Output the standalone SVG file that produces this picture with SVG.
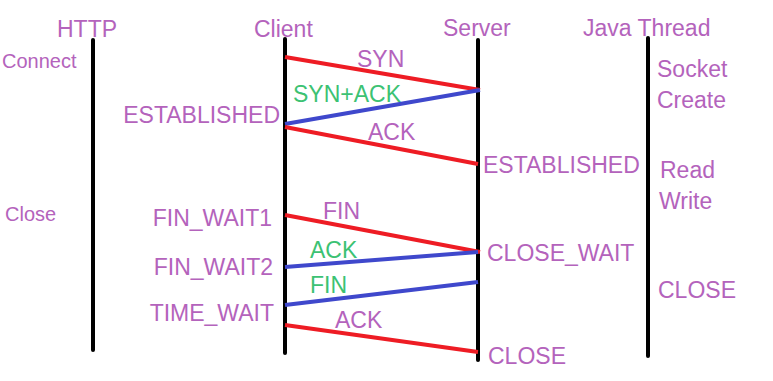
<svg xmlns="http://www.w3.org/2000/svg" width="773" height="381" viewBox="0 0 773 381">
<style>
.bg{fill:#ffffff}
.life{stroke:#000000;stroke-width:4;stroke-linecap:round;fill:none}
.red{stroke:#ee1c24;stroke-width:4;fill:none}
.blue{stroke:#3f48cc;stroke-width:4;fill:none}
text{font-family:"Liberation Sans",Arial,sans-serif;font-size:23px;fill:#b463bc}
.sm{font-size:20px}
.g{fill:#3cc273}
.e{text-anchor:end}
</style>
<rect class="bg" x="0" y="0" width="773" height="381"/>
<g id="http">
<line class="life" x1="93" y1="40" x2="93" y2="350"/>
<text x="57" y="37">HTTP</text>
<text class="sm" x="2" y="68">Connect</text>
<text class="sm" x="5" y="221">Close</text>
</g>
<g id="client">
<line class="life" x1="285" y1="39" x2="285" y2="353"/>
<text x="254" y="37">Client</text>
<text class="e" x="280" y="123">ESTABLISHED</text>
<text class="e" x="272" y="226">FIN_WAIT1</text>
<text class="e" x="273" y="275">FIN_WAIT2</text>
<text class="e" x="274" y="321">TIME_WAIT</text>
</g>
<g id="server">
<line class="life" x1="478" y1="40" x2="478" y2="360"/>
<text x="443" y="36">Server</text>
<text x="483" y="173">ESTABLISHED</text>
<text x="487" y="261">CLOSE_WAIT</text>
<text x="488" y="364">CLOSE</text>
</g>
<g id="java-thread">
<line class="life" x1="648" y1="38" x2="648" y2="356"/>
<text x="583" y="36">Java Thread</text>
<text x="657" y="77">Socket</text>
<text x="657" y="108">Create</text>
<text x="660" y="178">Read</text>
<text x="659" y="209">Write</text>
<text x="658" y="298">CLOSE</text>
</g>
<g id="connectors">
<line class="red" x1="285" y1="57" x2="480" y2="90"/>
<text x="357" y="67">SYN</text>
<line class="blue" x1="480" y1="90" x2="285" y2="124"/>
<text class="g" x="293" y="102">SYN+ACK</text>
<line class="red" x1="285" y1="127" x2="478" y2="164"/>
<text x="368" y="140">ACK</text>
<line class="red" x1="285" y1="215" x2="480" y2="252"/>
<text x="323" y="219">FIN</text>
<line class="blue" x1="478" y1="252" x2="285" y2="267"/>
<text class="g" x="310" y="258">ACK</text>
<line class="blue" x1="478" y1="282" x2="285" y2="305"/>
<text class="g" x="310" y="293">FIN</text>
<line class="red" x1="285" y1="325" x2="478" y2="352"/>
<text x="335" y="328">ACK</text>
</g>
</svg>
